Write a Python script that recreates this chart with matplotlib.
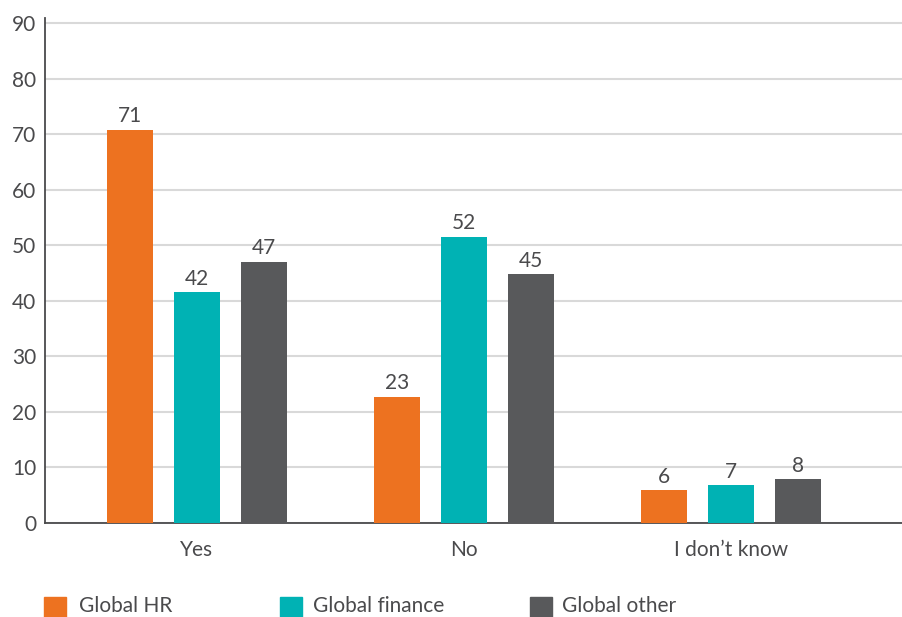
import matplotlib
matplotlib.use("Agg")
import matplotlib.pyplot as plt
import numpy as np
from matplotlib.patches import Rectangle

categories = ["Yes", "No", "I don\u2019t know"]
series_names = ["Global HR", "Global finance", "Global other"]
hr = [70.8, 22.7, 5.9]
finance = [41.5, 51.5, 6.8]
other = [47.0, 44.8, 7.9]
hr_labels = ["71", "23", "6"]
finance_labels = ["42", "52", "7"]
other_labels = ["47", "45", "8"]
yticks = [0, 10, 20, 30, 40, 50, 60, 70, 80, 90]

colors = ["#ED7220", "#00B2B4", "#58595B"]
text_color = "#4A4A4C"
plt.rcParams['font.family'] = ['Lato', 'DejaVu Sans']
fs = 15

W, H = 902, 617
fig = plt.figure(figsize=(W / 100, H / 100), dpi=100)
left, right, top, bottom = 44.7, 902, 18, 523
ax = fig.add_axes([left / W, 1 - bottom / H, (right - left) / W, (bottom - top) / H])

x = np.arange(len(categories))
offset = 0.25
width = 0.172
all_vals = [hr, finance, other]
all_labels = [hr_labels, finance_labels, other_labels]
for i, (vals, labs) in enumerate(zip(all_vals, all_labels)):
    xs = x + (i - 1) * offset
    bars = ax.bar(xs, vals, width=width, color=colors[i], zorder=3)
    for b, lab in zip(bars, labs):
        ax.annotate(lab, (b.get_x() + b.get_width() / 2, b.get_height()),
                    xytext=(0, 2.5), textcoords="offset points",
                    ha="center", va="bottom", fontsize=fs, color=text_color)

ax.set_xlim(-0.570, 2.640)
ax.set_ylim(0, 90.9)
ax.set_yticks(yticks)
ax.set_xticks(x)
ax.set_xticklabels(categories)
ax.yaxis.grid(True, color="#D9D9D9", linewidth=1.5, zorder=0)
ax.set_axisbelow(True)
for s in ["top", "right"]:
    ax.spines[s].set_visible(False)
for s in ["left", "bottom"]:
    ax.spines[s].set_color("#4A4A4C")
    ax.spines[s].set_linewidth(1.3)
ax.tick_params(axis="both", length=0, labelsize=fs, labelcolor=text_color)
ax.tick_params(axis="y", pad=6)
ax.tick_params(axis="x", pad=12)

# legend
sq_x = [44, 280, 530]
tx_x = [79, 313, 562]
sq_top, sq_size = 597, 22
for i, name in enumerate(series_names):
    fig.add_artist(Rectangle((sq_x[i] / W, 1 - (sq_top + sq_size) / H),
                             sq_size / W, sq_size / H, transform=fig.transFigure,
                             color=colors[i]))
    fig.text(tx_x[i] / W, 1 - 612 / H, name, fontsize=fs, color=text_color,
             ha="left", va="baseline")

fig.savefig("out.png", dpi=100)
